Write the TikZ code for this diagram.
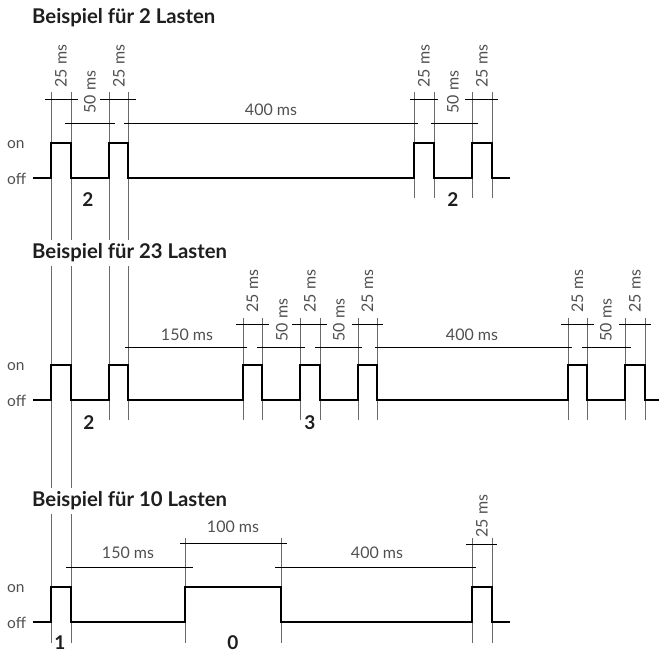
\documentclass[tikz,border=0pt]{standalone}
\usepackage{fontspec}
\setmainfont{Lato}
\definecolor{lblgray}{HTML}{505050}
\definecolor{linegray}{HTML}{6A6A6A}
\definecolor{ttlblack}{HTML}{1E1E1E}
\begin{document}
\begin{tikzpicture}[x=1pt,y=-1pt,
  sig/.style={line width=2.5pt,black,line join=miter},
  vline/.style={line width=0.9pt,linegray},
  dimline/.style={line width=0.9pt,black},
  lbl/.style={font=\fontsize{16}{18}\selectfont,text=lblgray,inner sep=0pt},
  rlbl/.style={lbl,rotate=90},
  ttl/.style={font=\fontsize{20.3}{22}\selectfont\bfseries,text=ttlblack,fill=white,inner xsep=2pt,inner ysep=4pt,anchor=west},
  num/.style={font=\fontsize{19}{20}\selectfont\bfseries,text=ttlblack,inner sep=0pt},
  lvl/.style={font=\fontsize{15.5}{17}\selectfont,text=lblgray,inner sep=0pt,anchor=base west}]
\useasboundingbox (0,0) rectangle (661,653);

% ---------- vertical extension lines ----------
\foreach \x in {51,71} \draw[vline] (\x,92) -- (\x,643);
\foreach \x in {109,128} \draw[vline] (\x,92) -- (\x,420);
\foreach \x in {414,434,472,492} \draw[vline] (\x,92) -- (\x,198);
\foreach \x in {243,262,300,320,358,377,568,587,625,645} \draw[vline] (\x,318) -- (\x,420);
\foreach \x in {185,281,472,492} \draw[vline] (\x,538) -- (\x,643);

% ---------- titles ----------
\node[ttl] (t1) at (30,18) {Beispiel für 2 Lasten};
\node[ttl] (t2) at (30,253) {Beispiel für 23 Lasten};
\node[ttl] (t3) at (30,501) {Beispiel für 10 Lasten};

% ---------- diagram 1 ----------
\draw[dimline] (45,99) -- (78,99);
\draw[dimline] (100,99) -- (136,99);
\draw[dimline] (410,99) -- (438,99);
\draw[dimline] (465,99) -- (498,99);
\draw[dimline] (65,123) -- (115,123);
\draw[dimline] (124,123) -- (418,123);
\draw[dimline] (431,123) -- (478,123);
\node[rlbl] (a1) at (61,66) {25 ms};
\node[rlbl] (a2) at (90,92) {50 ms};
\node[rlbl] (a3) at (119,66) {25 ms};
\node[lbl] (a4) at (271,110) {400 ms};
\node[rlbl] (a5) at (424,66) {25 ms};
\node[rlbl] (a6) at (453,92) {50 ms};
\node[rlbl] (a7) at (482,66) {25 ms};
\node[lvl] (on1) at (7,148) {on};
\node[lvl] (off1) at (7,184) {off};
\draw[sig] (33,178) -- (51,178) -- (51,143) -- (71,143) -- (71,178)
  -- (109,178) -- (109,143) -- (128,143) -- (128,178)
  -- (414,178) -- (414,143) -- (434,143) -- (434,178)
  -- (472,178) -- (472,143) -- (492,143) -- (492,178) -- (510,178);
\node[num] (n1a) at (88,200) {2};
\node[num] (n1b) at (453,200) {2};

% ---------- diagram 2 ----------
\foreach \a/\b in {236/269,292/327,352/383,561/594,619/651} \draw[dimline] (\a,324) -- (\b,324);
\draw[dimline] (125,347) -- (247,347);
\draw[dimline] (257,347) -- (305,347);
\draw[dimline] (315,347) -- (362,347);
\draw[dimline] (375,347) -- (572,347);
\draw[dimline] (582,347) -- (631,347);
\node[lbl] (b1) at (187,335) {150 ms};
\node[rlbl] (b2) at (252.5,291) {25 ms};
\node[rlbl] (b3) at (282,320) {50 ms};
\node[rlbl] (b4) at (310,291) {25 ms};
\node[rlbl] (b5) at (339,320) {50 ms};
\node[rlbl] (b6) at (367.5,291) {25 ms};
\node[lbl] (b7) at (472,335) {400 ms};
\node[rlbl] (b8) at (577.5,291) {25 ms};
\node[rlbl] (b9) at (606,320) {50 ms};
\node[rlbl] (b10) at (635,291) {25 ms};
\node[lvl] (on2) at (7,370) {on};
\node[lvl] (off2) at (7,406) {off};
\draw[sig] (33,400) -- (51,400) -- (51,365) -- (71,365) -- (71,400)
  -- (109,400) -- (109,365) -- (128,365) -- (128,400)
  -- (243,400) -- (243,365) -- (262,365) -- (262,400)
  -- (300,400) -- (300,365) -- (320,365) -- (320,400)
  -- (358,400) -- (358,365) -- (377,365) -- (377,400)
  -- (568,400) -- (568,365) -- (587,365) -- (587,400)
  -- (625,400) -- (625,365) -- (645,365) -- (645,400) -- (659,400);
\node[num] (n2a) at (89,423) {2};
\node[num] (n2b) at (310,423) {3};

% ---------- diagram 3 ----------
\draw[dimline] (180,543) -- (287,543);
\draw[dimline] (466,544) -- (497,544);
\draw[dimline] (66,567) -- (193,567);
\draw[dimline] (275,567) -- (476,567);
\node[lbl] (c1) at (128,553) {150 ms};
\node[lbl] (c2) at (233,527) {100 ms};
\node[lbl] (c3) at (377,553) {400 ms};
\node[rlbl] (c4) at (482,516) {25 ms};
\node[lvl] (on3) at (7,592) {on};
\node[lvl] (off3) at (7,628) {off};
\draw[sig] (33,622) -- (51,622) -- (51,587) -- (71,587) -- (71,622)
  -- (185,622) -- (185,587) -- (281,587) -- (281,622)
  -- (472,622) -- (472,587) -- (492,587) -- (492,622) -- (510,622);
\node[num] (n3a) at (60,643) {1};
\node[num] (n3b) at (233,643) {0};
\end{tikzpicture}
\end{document}
